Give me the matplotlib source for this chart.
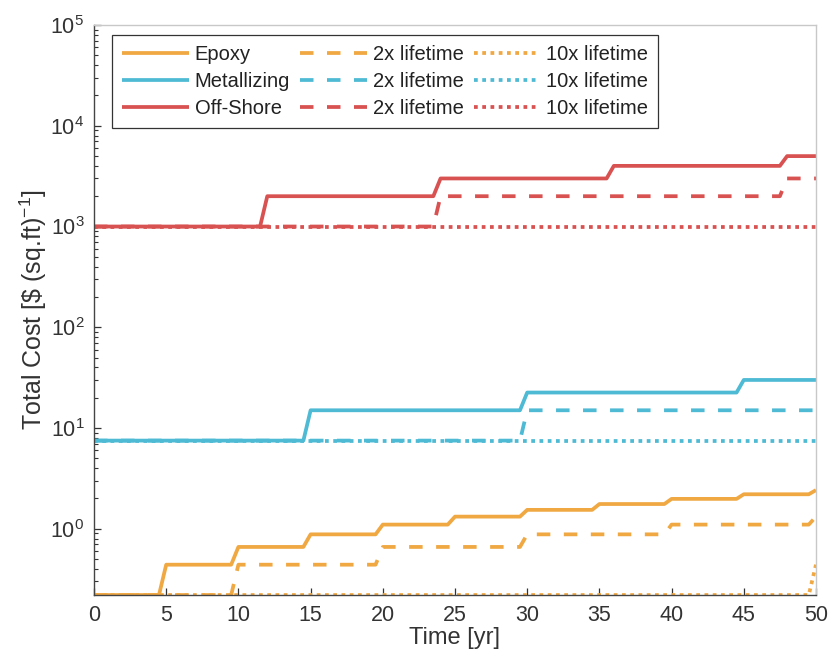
import numpy as np
import matplotlib
matplotlib.use("Agg")
import matplotlib.pyplot as plt
from matplotlib.ticker import LogLocator, NullFormatter, MultipleLocator

plt.rcParams['font.family'] = ['Liberation Sans', 'DejaVu Sans']
plt.rcParams['mathtext.default'] = 'regular'

# step data: year at which the cost steps up, and cost after the step
epoxy_years = [0, 5, 10, 15, 20, 25, 30, 35, 40, 45, 50]
epoxy_cost = [0.22, 0.44, 0.66, 0.88, 1.10, 1.32, 1.54, 1.76, 1.98, 2.20, 2.42]
epoxy_2x_years = [0, 10, 20, 30, 40, 50]
epoxy_2x_cost = [0.22, 0.44, 0.66, 0.88, 1.10, 1.32]
epoxy_10x_years = [0, 50]
epoxy_10x_cost = [0.22, 0.44]

metal_years = [0, 15, 30, 45]
metal_cost = [7.5, 15, 22.5, 30]
metal_2x_years = [0, 30]
metal_2x_cost = [7.5, 15]
metal_10x_years = [0]
metal_10x_cost = [7.5]

off_years = [0, 12, 24, 36, 48]
off_cost = [1000, 2000, 3000, 4000, 5000]
off_2x_years = [0, 24, 48]
off_2x_cost = [1000, 2000, 3000]
off_10x_years = [0]
off_10x_cost = [1000]

t_end = 50
ramp = 0.5  # values were sampled every half year, so each step is a short ramp

c_epoxy = '#F0A843'
c_metal = '#4EBAD4'
c_off = '#D95252'


def step_line(years, costs):
    xs, ys = [years[0]], [costs[0]]
    for i in range(1, len(years)):
        xs += [years[i] - ramp, years[i]]
        ys += [costs[i - 1], costs[i]]
    if xs[-1] < t_end:
        xs.append(t_end)
        ys.append(costs[-1])
    return xs, ys


fig = plt.figure(figsize=(8.29, 6.64), dpi=100)
ax = fig.add_axes([0.1134, 0.1039, 0.8709, 0.8584])

lw = 2.7
dash = (0, (3.6, 3.6))
dot = (0, (1.0, 1.2))

series = [
    (epoxy_years, epoxy_cost, c_epoxy, '-', 'Epoxy'),
    (metal_years, metal_cost, c_metal, '-', 'Metallizing'),
    (off_years, off_cost, c_off, '-', 'Off-Shore'),
    (epoxy_2x_years, epoxy_2x_cost, c_epoxy, dash, '2x lifetime'),
    (metal_2x_years, metal_2x_cost, c_metal, dash, '2x lifetime'),
    (off_2x_years, off_2x_cost, c_off, dash, '2x lifetime'),
    (epoxy_10x_years, epoxy_10x_cost, c_epoxy, dot, '10x lifetime'),
    (metal_10x_years, metal_10x_cost, c_metal, dot, '10x lifetime'),
    (off_10x_years, off_10x_cost, c_off, dot, '10x lifetime'),
]

handles = []
for yrs, cst, col, ls, lab in series:
    xs, ys = step_line(yrs, cst)
    h, = ax.plot(xs, ys, color=col, linestyle=ls, linewidth=lw, label=lab,
                 solid_capstyle='butt', dash_capstyle='butt')
    handles.append(h)

ax.set_yscale('log')
ax.set_xlim(0, 50)
ax.set_ylim(0.22, 1e5)
ax.xaxis.set_major_locator(MultipleLocator(5))
ax.yaxis.set_major_locator(LogLocator(base=10, numticks=10))
ax.yaxis.set_minor_locator(LogLocator(base=10, subs=np.arange(2, 10), numticks=20))
ax.yaxis.set_minor_formatter(NullFormatter())

ax.tick_params(which='both', direction='in', top=False, right=False,
               colors='#333333', labelsize=15.5, pad=7)
ax.tick_params(which='major', length=5, width=0.9)
ax.tick_params(which='minor', length=3, width=0.8)

for s in ['left', 'bottom']:
    ax.spines[s].set_color('#444444')
    ax.spines[s].set_linewidth(1.0)
for s in ['top', 'right']:
    ax.spines[s].set_color('#c8c8c8')
    ax.spines[s].set_linewidth(1.0)

ax.set_xlabel('Time [yr]', fontsize=17, color='#333333', labelpad=1)
ax.set_ylabel(r'Total Cost [\$ (sq.ft)$^{-1}$]', fontsize=18, color='#333333', labelpad=1)

leg = ax.legend(handles=handles, ncol=3, loc='upper left',
                bbox_to_anchor=(0.025, 0.983), borderaxespad=0,
                fontsize=14.5, handlelength=3.3, handletextpad=0.3,
                columnspacing=0.5, labelspacing=0.4, borderpad=0.5,
                fancybox=False, framealpha=1)
leg.get_frame().set_edgecolor('#333333')
leg.get_frame().set_linewidth(0.9)
for txt in leg.get_texts():
    txt.set_color('#222222')

fig.savefig('out.png', dpi=100)
